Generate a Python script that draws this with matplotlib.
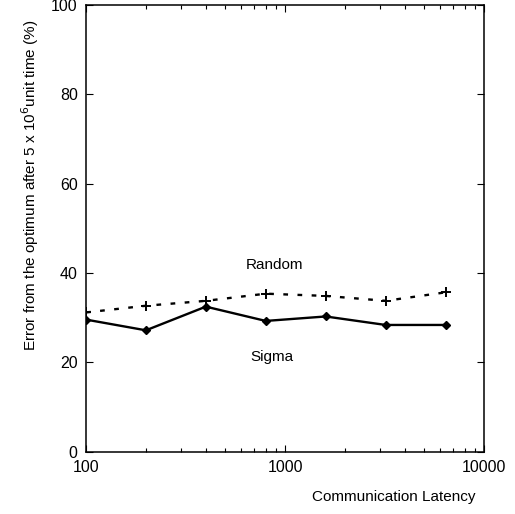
import matplotlib
matplotlib.use("Agg")
import matplotlib.pyplot as plt
from matplotlib.ticker import LogLocator, NullFormatter

plt.rcParams['font.family'] = ['Liberation Sans', 'DejaVu Sans']

# data
latency = [100, 200, 400, 800, 1600, 3200, 6400]
random_err = [31.2, 32.7, 33.8, 35.4, 34.9, 33.8, 35.7]
sigma_err = [29.6, 27.2, 32.5, 29.3, 30.3, 28.4, 28.4]

y_ticks = [0, 20, 40, 60, 80, 100]
x_ticks = [100, 1000, 10000]
x_tick_labels = ['100', '1000', '10000']

fig = plt.figure(figsize=(5.15, 5.14), dpi=100)
ax = fig.add_axes([0.167, 0.121, 0.773, 0.869])

ax.plot(latency, random_err, color='black', linestyle=(0, (2, 4)), linewidth=1.7,
        marker='+', markersize=7, markeredgewidth=1.4)
ax.plot(latency, sigma_err, color='black', linestyle='-', linewidth=1.7,
        marker='D', markersize=4.5)

ax.set_xscale('log')
ax.set_xlim(100, 10000)
ax.set_ylim(0, 100)

ax.set_xticks(x_ticks)
ax.set_xticklabels(x_tick_labels)
ax.xaxis.set_minor_locator(LogLocator(base=10, subs=range(2, 10)))
ax.xaxis.set_minor_formatter(NullFormatter())
ax.set_yticks(y_ticks)

ax.tick_params(which='both', direction='in', top=True, right=True, labelsize=11.5, width=0.8)
ax.tick_params(which='major', length=5, pad=6)
ax.tick_params(which='minor', length=3)
for s in ax.spines.values():
    s.set_linewidth(1.1)

ax.text(880, 41.8, 'Random', ha='center', va='center', fontsize=11)
ax.text(860, 21.3, 'Sigma', ha='center', va='center', fontsize=11)

fig.text(0.923, 0.033, 'Communication Latency', ha='right', va='center', fontsize=11)
fig.text(0.058, 0.64, 'Error from the optimum after 5 x 10$^6$unit time (%)',
         rotation=90, ha='center', va='center', fontsize=11)

fig.savefig('out.png', dpi=100)
